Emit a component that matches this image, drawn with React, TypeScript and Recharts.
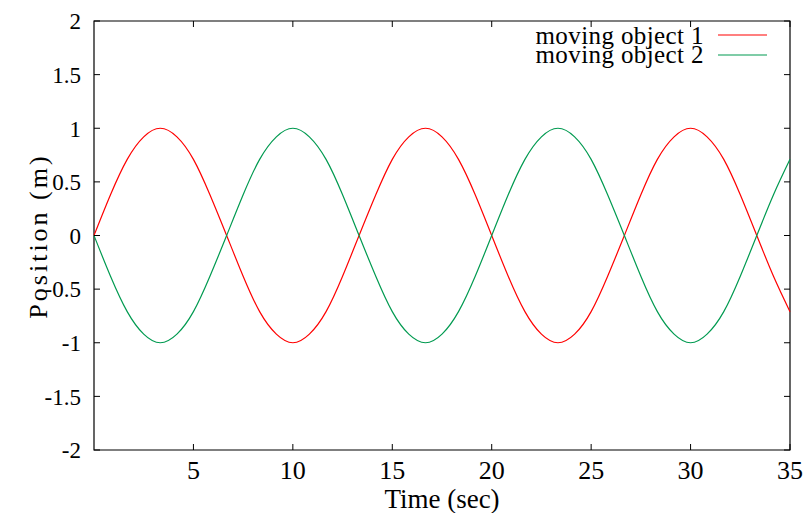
import { Legend, Line, LineChart, ReferenceArea, XAxis, YAxis } from "recharts";

const time = [
  0, 0.83, 1.67, 2.5, 3.33, 4.17, 5, 5.83, 6.67, 7.5, 8.33, 9.17, 10, 10.83, 11.67,
  12.5, 13.33, 14.17, 15, 15.83, 16.67, 17.5, 18.33, 19.17, 20, 20.83, 21.67, 22.5,
  23.33, 24.17, 25, 25.83, 26.67, 27.5, 28.33, 29.17, 30, 30.83, 31.67, 32.5, 33.33,
  34.17, 35,
];
const object1 = [
  0, 0.38, 0.71, 0.92, 1, 0.92, 0.71, 0.38, 0, -0.38, -0.71, -0.92, -1, -0.92, -0.71,
  -0.38, 0, 0.38, 0.71, 0.92, 1, 0.92, 0.71, 0.38, 0, -0.38, -0.71, -0.92, -1, -0.92,
  -0.71, -0.38, 0, 0.38, 0.71, 0.92, 1, 0.92, 0.71, 0.38, 0, -0.38, -0.71,
];
const object2 = [
  0, -0.38, -0.71, -0.92, -1, -0.92, -0.71, -0.38, 0, 0.38, 0.71, 0.92, 1, 0.92, 0.71,
  0.38, 0, -0.38, -0.71, -0.92, -1, -0.92, -0.71, -0.38, 0, 0.38, 0.71, 0.92, 1, 0.92,
  0.71, 0.38, 0, -0.38, -0.71, -0.92, -1, -0.92, -0.71, -0.38, 0, 0.38, 0.71,
];
const xTicks = [5, 10, 15, 20, 25, 30, 35];
const yTicks = [-2, -1.5, -1, -0.5, 0, 0.5, 1, 1.5, 2];

const data = time.map((t, i) => ({ t, o1: object1[i], o2: object2[i] }));

const W = 805;
const H = 513;
const LEFT = 94;
const RIGHT = 790;
const TOP = 21;
const BOTTOM = 450;
const FONT = "Liberation Serif, Times New Roman, serif";

function XTick(props: any) {
  const { x, payload } = props;
  return (
    <g>
      <line x1={x} x2={x} y1={BOTTOM} y2={BOTTOM - 6} stroke="#000" />
      <line x1={x} x2={x} y1={TOP} y2={TOP + 6} stroke="#000" />
      <text x={x} y={479} textAnchor="middle" fontSize={26} fontFamily={FONT} fill="#000">
        {payload.value}
      </text>
    </g>
  );
}

function YTick(props: any) {
  const { y, payload } = props;
  return (
    <g>
      <line x1={LEFT} x2={LEFT + 6} y1={y} y2={y} stroke="#000" />
      <line x1={RIGHT} x2={RIGHT - 6} y1={y} y2={y} stroke="#000" />
      <text x={81} y={y} dy="0.36em" textAnchor="end" fontSize={23} fontFamily={FONT} fill="#000">
        {payload.value}
      </text>
    </g>
  );
}

function LegendBox(props: any) {
  const items = props.payload || [];
  return (
    <svg width={300} height={70}>
      {items.map((item: any, i: number) => (
        <g key={item.value}>
          <text
            x={199}
            y={44 + i * 19}
            textAnchor="end"
            fontSize={25}
            letterSpacing={0.4}
            fontFamily={FONT}
            fill="#000"
          >
            {item.value}
          </text>
          <line x1={213} x2={262} y1={35 + i * 20} y2={35 + i * 20} stroke={item.color} strokeWidth={1.2} />
        </g>
      ))}
    </svg>
  );
}

export default function App() {
  return (
    <div style={{ position: "absolute", left: 0, top: 0, background: "#fff" }}>
      <LineChart
        width={W}
        height={H}
        data={data}
        margin={{ top: TOP, right: W - RIGHT, bottom: 0, left: 0 }}
      >
        <XAxis
          dataKey="t"
          type="number"
          domain={[0, 35]}
          ticks={xTicks}
          height={H - BOTTOM}
          axisLine={false}
          tickLine={false}
          tick={XTick}
          label={() => (
            <text x={(LEFT + RIGHT) / 2} y={508} textAnchor="middle" fontSize={27} fontFamily={FONT} fill="#000">
              Time (sec)
            </text>
          )}
        />
        <YAxis
          type="number"
          domain={[-2, 2]}
          ticks={yTicks}
          width={LEFT}
          axisLine={false}
          tickLine={false}
          tick={YTick}
          label={() => (
            <text
              x={0}
              y={0}
              transform={`translate(47, 236) rotate(-90)`}
              textAnchor="middle"
              fontSize={26}
              letterSpacing={3}
              fontFamily={FONT}
              fill="#000"
            >
              Position (m)
            </text>
          )}
        />
        <ReferenceArea x1={0} x2={35} y1={-2} y2={2} fill="none" stroke="#000" strokeWidth={1.2} />
        <Legend
          layout="vertical"
          align="center"
          verticalAlign="middle"
          wrapperStyle={{ top: 0, right: 0, left: "auto", width: 300 }}
          content={LegendBox}
        />
        <Line
          type="natural"
          dataKey="o1"
          name="moving object 1"
          stroke="#ff0000"
          strokeWidth={1.2}
          dot={false}
          isAnimationActive={false}
        />
        <Line
          type="natural"
          dataKey="o2"
          name="moving object 2"
          stroke="#009a50"
          strokeWidth={1.2}
          dot={false}
          isAnimationActive={false}
        />
      </LineChart>
    </div>
  );
}
